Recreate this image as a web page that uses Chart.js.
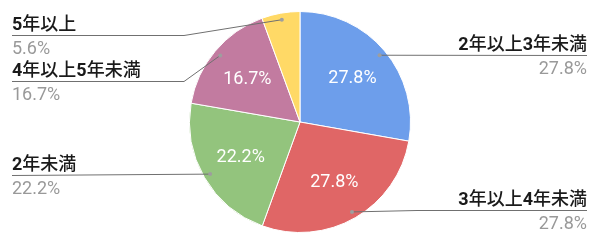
<!DOCTYPE html>
<html>
<head>
<meta charset="utf-8">
<script src="https://cdn.jsdelivr.net/npm/chart.js@4"></script>
<style>
  html, body { margin: 0; padding: 0; background: #fff; }
  #wrap { width: 600px; height: 246px; }
</style>
</head>
<body>
<div id="wrap"><canvas id="pieChart" width="600" height="246"></canvas></div>
<script>
const categories = ['2年以上3年未満', '3年以上4年未満', '2年未満', '4年以上5年未満', '5年以上'];
const shares = [27.8, 27.8, 22.2, 16.7, 5.6];
const colors = ['#6d9eeb', '#e06666', '#93c47d', '#c27ba0', '#ffd966'];

const FONT = "Roboto, 'Noto Sans CJK JP', sans-serif";

// where each callout line runs horizontally, and where it bends
const calloutY = [55, 210, 175, 81, 35];
const elbowX = { left: 184, right: 417 };

// digits bold, kanji medium (like the original rendering)
function drawLabel(ctx, text, x, y, alignRight) {
  const runs = text.match(/[0-9]+|[^0-9]+/g);
  const fontOf = s => /[0-9]/.test(s) ? 'bold 18px Roboto, sans-serif' : "500 18px 'Noto Sans CJK JP', sans-serif";
  let total = 0;
  runs.forEach(s => { ctx.font = fontOf(s); total += ctx.measureText(s).width; });
  let cx = alignRight ? x - total : x;
  ctx.textAlign = 'left';
  runs.forEach(s => {
    ctx.font = fontOf(s);
    ctx.fillText(s, cx, y);
    cx += ctx.measureText(s).width;
  });
}

const calloutPlugin = {
  id: 'callouts',
  afterDatasetsDraw(chart) {
    const ctx = chart.ctx;
    const meta = chart.getDatasetMeta(0);
    ctx.save();
    meta.data.forEach((arc, i) => {
      const p = arc.getProps(['x', 'y', 'startAngle', 'endAngle', 'outerRadius'], true);
      const mid = (p.startAngle + p.endAngle) / 2;
      const r = p.outerRadius;

      // percentage inside the slice
      if (shares[i] > 10) {
        ctx.fillStyle = '#ffffff';
        ctx.font = '18px ' + FONT;
        ctx.textAlign = 'center';
        ctx.textBaseline = 'middle';
        ctx.fillText(shares[i].toFixed(1) + '%', p.x + Math.cos(mid) * r * 0.62, p.y + Math.sin(mid) * r * 0.62 + 1);
      }

      // callout
      const dx = p.x + Math.cos(mid) * r * 0.94;
      const dy = p.y + Math.sin(mid) * r * 0.94;
      const right = Math.cos(mid) > 0;
      const ly = calloutY[i];
      const ex = right ? Math.max(dx, elbowX.right) : Math.min(dx, elbowX.left);
      const endX = right ? 587 : 12;

      ctx.strokeStyle = '#707070';
      ctx.lineWidth = 1;
      ctx.beginPath();
      ctx.moveTo(dx, dy);
      if (Math.abs(ly - dy) > 1) ctx.lineTo(ex, ly + 0.5);
      ctx.lineTo(endX, ly + 0.5);
      ctx.stroke();

      ctx.fillStyle = '#9e9e9e';
      ctx.beginPath();
      ctx.arc(dx, dy, 2, 0, Math.PI * 2);
      ctx.fill();

      ctx.textBaseline = 'alphabetic';
      ctx.fillStyle = '#1a1a1a';
      drawLabel(ctx, categories[i], endX, ly - 5, right);
      ctx.textAlign = right ? 'right' : 'left';
      ctx.fillStyle = '#999999';
      ctx.font = '18px ' + FONT;
      ctx.fillText(shares[i].toFixed(1) + '%', endX, ly + 19);
    });
    ctx.restore();
  }
};

new Chart(document.getElementById('pieChart'), {
  type: 'pie',
  data: {
    labels: categories,
    datasets: [{
      data: shares,
      backgroundColor: colors,
      borderColor: '#ffffff',
      borderWidth: 1
    }]
  },
  options: {
    responsive: false,
    animation: false,
    layout: { padding: { top: 11, bottom: 13 } },
    plugins: {
      legend: { display: false },
      tooltip: { enabled: false }
    }
  },
  plugins: [calloutPlugin]
});
</script>
</body>
</html>
